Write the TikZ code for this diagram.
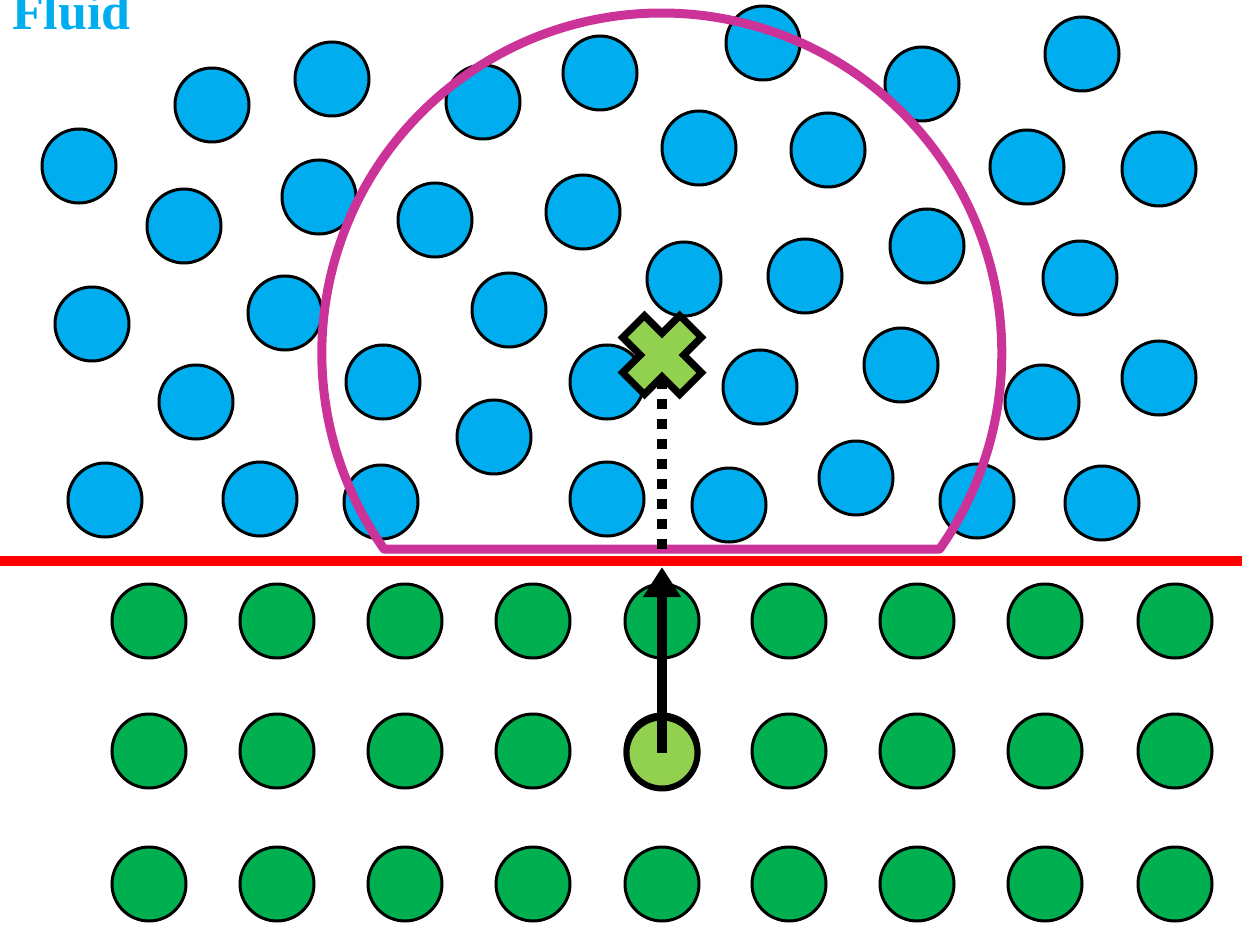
\documentclass[tikz,border=0pt]{standalone}
\usepackage{fontspec}
\setmainfont{Liberation Serif}
\usetikzlibrary{arrows.meta,calc}
\definecolor{fluidblue}{RGB}{0,174,239}
\definecolor{wallgreen}{RGB}{0,176,80}
\definecolor{probegreen}{RGB}{146,208,80}
\definecolor{cutmagenta}{RGB}{204,51,153}

\begin{document}
\begin{tikzpicture}[x=1pt,y=-1pt,>=Stealth,
  fluid/.style={circle,draw,line width=3pt,fill=fluidblue,minimum size=74pt,inner sep=0pt},
  solid atom/.style={circle,draw,line width=3pt,fill=wallgreen,minimum size=74pt,inner sep=0pt},
  probe/.style={circle,draw,line width=6pt,fill=probegreen,minimum size=71pt,inner sep=0pt}]
\useasboundingbox (0,0) rectangle (1242,925);
% wall atoms
\foreach \i/\x in {1/149,2/277,3/405,4/533,5/662,6/789,7/917,8/1045,9/1175}
  \foreach \j/\y in {1/621,2/751,3/884}
    \node[solid atom] (w\i\j) at (\x,\y) {};
\node[probe] (s) at (662,753) {};
% fluid particles
\foreach \x/\y [count=\n] in {79/166,212/105,332/79,483/102,600/73,763/43,922/84,1082/54,
  184/226,319/197,435/220,583/212,699/148,828/150,1027/167,1159/169,
  92/324,285/313,509/310,684/279,805/276,927/246,1080/278,
  196/402,383/382,494/437,607/382,760/387,901/365,1042/402,1159/378,
  105/500,260/499,381/502,607/499,729/505,856/478,977/501,1102/503}
  \node[fluid] (f\n) at (\x,\y) {};
\node[anchor=base west,inner sep=0pt,text=fluidblue,font=\bfseries\fontsize{52}{52}\selectfont] (lbl) at (12,30) {Fluid};
% wall surface
\draw[red,line width=10pt] (0,561)--(1242,561);
% cut-off sphere
\draw[cutmagenta,line width=9pt,line join=round] (384,549) arc[start angle=144.8,end angle=395.2,radius=340] -- cycle;
\coordinate (c) at (662,549);
\coordinate (t) at (662,567);
\coordinate (x) at (662,355);
\draw[line width=10pt,dash pattern=on 10pt off 10pt] (c)--(x);
% image point
\draw[line width=38pt] ($(x)+(-31,-31)$)--($(x)+(31,31)$) ($(x)+(-31,31)$)--($(x)+(31,-31)$);
\draw[probegreen,line width=23pt] ($(x)+(-26,-26)$)--($(x)+(26,26)$) ($(x)+(-26,26)$)--($(x)+(26,-26)$);
\draw[-{Triangle[length=30pt,width=36pt]},line width=10pt] (s.center)--(t);
\end{tikzpicture}
\end{document}
